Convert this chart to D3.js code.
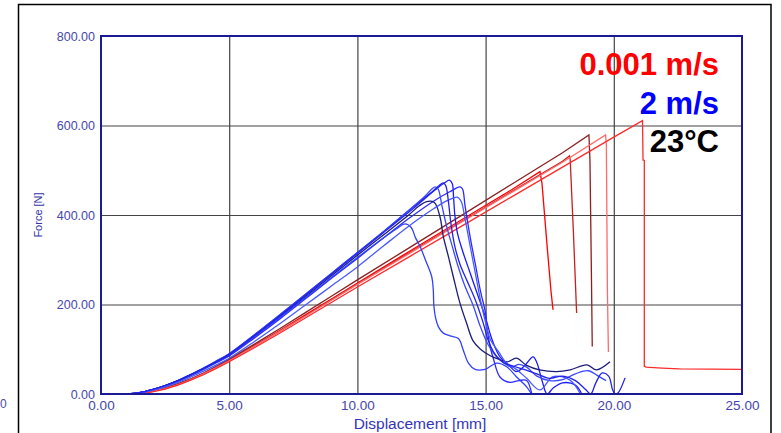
<!DOCTYPE html>
<html>
<head>
<meta charset="utf-8">
<script src="https://cdn.jsdelivr.net/npm/d3@7"></script>
<style>
  html, body { margin: 0; padding: 0; background: #fff; }
  svg { display: block; }
</style>
</head>
<body>
<svg id="chart" width="781" height="433"></svg>
<script>
// Axis ticks
const xTicks = [0, 5, 10, 15, 20, 25];
const yTicks = [0, 200, 400, 600, 800];

// Legend lines
const legendLines = ["0.001 m/s", "2 m/s", "23°C"];

// Force-displacement curves at 0.001 m/s, [displacement mm, force N]
const red1 = [[1.1,0],[1.5,2],[2,6],[2.5,13],[3,22],[3.5,33],[4,46],[4.5,60],[5,76],[6,109],[7,143],[8,178],[9,213],[10,248],[12,318],[14,387],[16,456],[17.12,497],[17.2,470],[17.4,330],[17.55,230],[17.63,188]];
const red2 = [[1.1,0],[1.5,2],[2,6],[2.5,12],[3,22],[3.5,33],[4,45],[4.5,59],[5,75],[6,108],[7,141],[8,176],[9,211],[10,246],[12,315],[14,383],[16,452],[18,520],[18.27,532],[18.3,523],[18.42,368],[18.55,181]];
const red3 = [[1.0,0],[1.5,2],[2,7],[2.5,14],[3,23],[3.5,34],[4,47],[4.5,62],[5,78],[6,112],[7,147],[8,183],[9,219],[10,255],[12,326],[14,397],[16,468],[18,539],[19.03,579],[19.07,523],[19.12,300],[19.16,106]];
const red4 = [[1.1,0],[1.5,2],[2,6],[2.5,12],[3,21],[3.5,32],[4,45],[4.5,59],[5,74],[6,107],[7,141],[8,175],[9,210],[10,245],[12,313],[14,382],[16,450],[18,518],[19.68,579],[19.71,556],[19.75,232],[19.79,94]];
const red5 = [[1.2,0],[1.5,1],[2,5],[2.5,11],[3,20],[3.5,31],[4,43],[4.5,57],[5,72],[6,104],[7,137],[8,171],[9,205],[10,239],[12,306],[14,373],[16,440],[18,507],[20,574],[21.12,611],[21.14,523],[21.19,522],[21.19,62],[21.26,60],[21.88,58],[22.56,56],[25,55]];

// Force-displacement curves at 2 m/s, [displacement mm, force N]
const blue1 = [[1.0,0],[1.5,3],[2,10],[2.5,19],[3,30],[3.5,43],[4,58],[4.5,73],[5,90],[6,133],[7,178],[8,224],[9,270],[10,316],[11,362],[12,410],[13,455],[13.4,472],[13.59,478],[13.7,470],[13.75,440],[13.8,400],[13.9,360],[14.1,320],[14.4,270],[14.7,220],[15.0,170],[15.2,130],[15.4,100],[15.6,80],[15.9,65],[16.2,50],[16.5,62],[16.85,83],[17.0,70],[17.2,30],[17.4,0],[17.63,13],[18.0,25],[18.5,20],[18.75,0]];
const blue2 = [[1.0,0],[1.5,3],[2,9],[2.5,18],[3,28],[3.5,41],[4,55],[4.5,70],[5,85],[6,126],[7,169],[8,214],[9,259],[10,303],[11,348],[12,392],[13,432],[13.6,452],[14.0,463],[14.1,458],[14.2,420],[14.4,350],[14.6,290],[14.8,230],[15.0,180],[15.05,150],[15.2,100],[15.3,80],[15.56,38],[15.95,26],[16.3,30],[16.6,30],[16.8,0]];
const blue3 = [[1.0,0],[1.5,3],[2,10],[2.5,19],[3,30],[3.5,44],[4,58],[4.5,74],[5,90],[6,133],[7,178],[8,224],[9,270],[10,316],[11,362],[12,410],[12.6,440],[13.03,463],[13.15,458],[13.3,420],[13.5,370],[13.7,330],[13.9,290],[14.2,240],[14.5,200],[14.8,150],[15.1,110],[15.4,85],[15.7,70],[16.0,60],[16.3,66],[16.6,60],[17.0,40],[17.5,30],[18.0,32],[18.5,45],[19.0,52],[19.4,40],[19.7,30]];
const blue4 = [[1.0,0],[1.5,3],[2,10],[2.5,19],[3,30],[3.5,43],[4,57],[4.5,72],[5,88],[6,130],[7,174],[8,219],[9,265],[10,310],[11,355],[12,400],[12.4,420],[12.7,430],[13.0,428],[13.22,396],[13.35,352],[13.55,307],[13.74,262],[14.0,203],[14.26,158],[14.5,120],[14.8,100],[15.2,85],[15.5,78],[15.85,72],[16.2,80],[16.6,64],[17.1,54],[17.77,50],[18.3,54],[18.95,65],[19.33,54],[19.85,72]];
const blue5 = [[1.0,0],[1.5,3],[2,9],[2.5,18],[3,29],[3.5,42],[4,56],[4.5,71],[5,87],[6,129],[7,172],[8,216],[9,261],[10,305],[11,348],[11.5,368],[11.86,380],[12.1,372],[12.26,350],[12.45,329],[12.65,300],[12.9,262],[12.96,232],[12.98,200],[13.05,170],[13.16,150],[13.35,136],[13.61,130],[13.94,124],[14.13,98],[14.33,69],[14.59,55],[14.98,55],[15.43,69],[15.82,61],[16.21,38],[16.6,16],[16.79,0]];
const blue6 = [[1.1,0],[1.5,2],[2,8],[2.5,16],[3,26],[3.5,38],[4,51],[4.5,65],[5,80],[6,118],[7,158],[8,200],[9,242],[10,284],[11,330],[12,375],[13,415],[13.5,432],[13.9,440],[14.05,430],[14.2,390],[14.4,330],[14.6,270],[14.8,210],[15.0,160],[15.2,120],[15.5,95],[15.8,70],[16.2,55],[16.6,35],[17.12,9],[17.63,39],[18.29,31],[18.68,2]];
const blue7 = [[1.0,0],[1.5,3],[2,10],[2.5,19],[3,30],[3.5,43],[4,57],[4.5,72],[5,88],[6,131],[7,176],[8,222],[9,268],[10,314],[11,360],[12,406],[12.8,445],[13.35,472],[13.45,465],[13.55,430],[13.65,380],[13.8,330],[14.0,290],[14.3,250],[14.6,210],[14.9,160],[15.1,120],[15.3,95],[15.5,80],[15.7,70],[16.1,62],[16.5,55],[17.0,45],[17.5,35],[18.0,40],[18.5,30],[18.9,10],[19.1,0],[19.3,25],[19.55,47],[19.8,40],[19.95,10],[20.05,0],[20.16,2],[20.44,36]];

const redSeries = [
  { data: red1, color: "#ff0000" },
  { data: red2, color: "#c42020" },
  { data: red3, color: "#8a2020" },
  { data: red4, color: "#ff6a6a" },
  { data: red5, color: "#ff2a2a" }
];
const blueSeries = [
  { data: blue1, color: "#1a1aff" },
  { data: blue2, color: "#2a2aff" },
  { data: blue3, color: "#3a48ff" },
  { data: blue4, color: "#1c1c7a" },
  { data: blue5, color: "#3040ff" },
  { data: blue6, color: "#4a5aff" },
  { data: blue7, color: "#2222e8" }
];

const svg = d3.select("#chart");
const plot = { left: 101, right: 742, top: 36, bottom: 394 };

const x = d3.scaleLinear().domain([0, 25]).range([plot.left, plot.right]);
const y = d3.scaleLinear().domain([0, 800]).range([plot.bottom, plot.top]);

// Outer page frame
svg.append("path")
  .attr("d", "M18.5,433 V4.5 H771 V433")
  .attr("fill", "none")
  .attr("stroke", "#000")
  .attr("stroke-width", 1.5);

// Stray label at the far left
svg.append("text")
  .attr("x", 0).attr("y", 408)
  .attr("font-family", "Liberation Sans, Arial, sans-serif")
  .attr("font-size", 12)
  .attr("fill", "#4a4aa8")
  .text("0");

// Grid lines
svg.append("g")
  .attr("transform", `translate(0,${plot.bottom})`)
  .call(d3.axisBottom(x).tickValues(xTicks.slice(1, -1)).tickSize(-(plot.bottom - plot.top)).tickFormat(""))
  .call(g => g.select(".domain").remove())
  .call(g => g.selectAll("line").attr("stroke", "#444").attr("stroke-width", 1.2));
svg.append("g")
  .attr("transform", `translate(${plot.left},0)`)
  .call(d3.axisLeft(y).tickValues(yTicks.slice(1, -1)).tickSize(-(plot.right - plot.left)).tickFormat(""))
  .call(g => g.select(".domain").remove())
  .call(g => g.selectAll("line").attr("stroke", "#444").attr("stroke-width", 1.2));

// Curves
svg.append("clipPath").attr("id", "clip")
  .append("rect")
  .attr("x", plot.left).attr("y", plot.top)
  .attr("width", plot.right - plot.left).attr("height", plot.bottom - plot.top);

const curves = svg.append("g").attr("clip-path", "url(#clip)");
const redLine = d3.line().x(d => x(d[0])).y(d => y(d[1]));
const blueLine = d3.line().x(d => x(d[0])).y(d => y(d[1])).curve(d3.curveCatmullRom.alpha(0.5));

curves.selectAll("path.red")
  .data(redSeries).join("path")
  .attr("class", "red")
  .attr("d", d => redLine(d.data))
  .attr("fill", "none")
  .attr("stroke", d => d.color)
  .attr("stroke-width", 1.3);

curves.selectAll("path.blue")
  .data(blueSeries).join("path")
  .attr("class", "blue")
  .attr("d", d => blueLine(d.data))
  .attr("fill", "none")
  .attr("stroke", d => d.color)
  .attr("stroke-width", 1.3);

// Plot frame
svg.append("rect")
  .attr("x", plot.left).attr("y", plot.top)
  .attr("width", plot.right - plot.left).attr("height", plot.bottom - plot.top)
  .attr("fill", "none")
  .attr("stroke", "#1a1a96")
  .attr("stroke-width", 2);

// Tick labels
const fmt = d3.format(".2f");
const xAxis = svg.append("g")
  .attr("transform", `translate(0,${plot.bottom})`)
  .call(d3.axisBottom(x).tickValues(xTicks).tickFormat(fmt).tickSize(0).tickPadding(6));
xAxis.select(".domain").remove();
xAxis.selectAll("text")
  .attr("font-family", "Liberation Sans, Arial, sans-serif")
  .attr("font-size", 13.5)
  .attr("fill", "#4646aa");

const yAxis = svg.append("g")
  .attr("transform", `translate(${plot.left},0)`)
  .call(d3.axisLeft(y).tickValues(yTicks).tickFormat(fmt).tickSize(0).tickPadding(6));
yAxis.select(".domain").remove();
yAxis.selectAll("text")
  .attr("font-family", "Liberation Sans, Arial, sans-serif")
  .attr("font-size", 12.5)
  .attr("fill", "#4646aa");

// Axis titles
svg.append("text")
  .attr("x", 420).attr("y", 429)
  .attr("text-anchor", "middle")
  .attr("font-family", "Liberation Sans, Arial, sans-serif")
  .attr("font-size", 15.5)
  .attr("fill", "#3434b8")
  .text("Displacement [mm]");

svg.append("text")
  .attr("transform", "translate(41.5,215) rotate(-90)")
  .attr("text-anchor", "middle")
  .attr("font-family", "Liberation Sans, Arial, sans-serif")
  .attr("font-size", 11)
  .attr("fill", "#3434a8")
  .text("Force [N]");

// Legend
const legendColors = ["#ff0000", "#0000ff", "#000000"];
const legendBase = [75, 114, 152];
svg.append("g").selectAll("text")
  .data(legendLines).join("text")
  .attr("x", 719)
  .attr("y", (d, i) => legendBase[i])
  .attr("text-anchor", "end")
  .attr("font-family", "Liberation Sans, Arial, sans-serif")
  .attr("font-weight", "bold")
  .attr("font-size", 31)
  .attr("fill", (d, i) => legendColors[i])
  .text(d => d);
</script>
</body>
</html>
